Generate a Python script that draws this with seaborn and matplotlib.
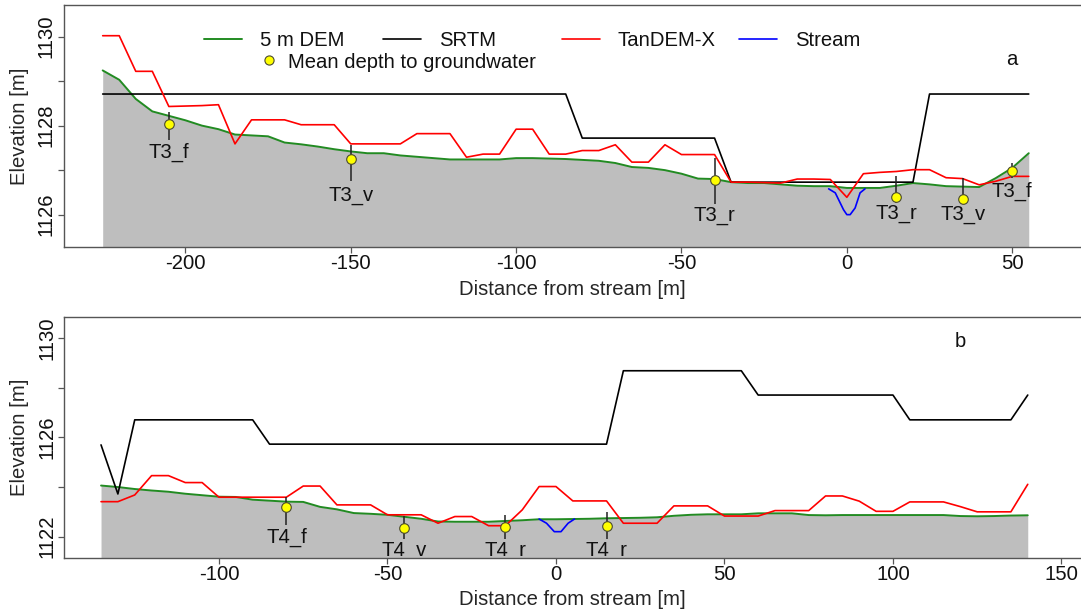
import numpy as np
import matplotlib
matplotlib.use("Agg")
import matplotlib.pyplot as plt
from matplotlib.lines import Line2D
from matplotlib.legend import Legend
import seaborn as sns

# ---------------- Transect T3 (panel a) ----------------
t3_dist = np.arange(-225, 60, 5)
t3_dem = [1129.24, 1129.03, 1128.60, 1128.32, 1128.22, 1128.12, 1128.00, 1127.92, 1127.80, 1127.78,
          1127.76, 1127.62, 1127.58, 1127.53, 1127.47, 1127.42, 1127.38, 1127.38, 1127.33, 1127.30,
          1127.27, 1127.24, 1127.24, 1127.24, 1127.24, 1127.27, 1127.27, 1127.26, 1127.25, 1127.23,
          1127.21, 1127.16, 1127.07, 1127.05, 1127.00, 1126.92, 1126.81, 1126.80, 1126.73, 1126.71,
          1126.71, 1126.68, 1126.65, 1126.64, 1126.64, 1126.60, 1126.60, 1126.60, 1126.65, 1126.71,
          1126.68, 1126.64, 1126.63, 1126.62, 1126.82, 1127.05, 1127.38]
t3_tandem = [1130.02, 1130.02, 1129.22, 1129.22, 1128.43, 1128.44, 1128.45, 1128.47, 1127.59, 1128.13,
             1128.13, 1128.13, 1128.02, 1128.02, 1128.02, 1127.59, 1127.59, 1127.59, 1127.59, 1127.82,
             1127.82, 1127.82, 1127.29, 1127.36, 1127.36, 1127.92, 1127.92, 1127.36, 1127.36, 1127.44,
             1127.44, 1127.57, 1127.18, 1127.18, 1127.57, 1127.35, 1127.35, 1127.35, 1126.73, 1126.73,
             1126.72, 1126.71, 1126.80, 1126.80, 1126.79, 1126.39, 1126.92, 1126.95, 1126.97, 1127.01,
             1127.01, 1126.83, 1126.81, 1126.67, 1126.75, 1126.86, 1126.86]
t3_srtm = [1128.71, 1128.71, 1128.71, 1128.71, 1128.71, 1128.71, 1128.71, 1128.71, 1128.71, 1128.71,
           1128.71, 1128.71, 1128.71, 1128.71, 1128.71, 1128.71, 1128.71, 1128.71, 1128.71, 1128.71,
           1128.71, 1128.71, 1128.71, 1128.71, 1128.71, 1128.71, 1128.71, 1128.71, 1128.71, 1127.72,
           1127.72, 1127.72, 1127.72, 1127.72, 1127.72, 1127.72, 1127.72, 1127.72, 1126.73, 1126.73,
           1126.73, 1126.73, 1126.73, 1126.73, 1126.73, 1126.73, 1126.73, 1126.73, 1126.73, 1126.73,
           1128.71, 1128.71, 1128.71, 1128.71, 1128.71, 1128.71, 1128.71]
t3_stream_dist = [-5.5, -3.5, -1.0, 0.0, 1.0, 2.5, 4.0, 5.5]
t3_stream_elev = [1126.58, 1126.49, 1126.11, 1126.00, 1126.00, 1126.15, 1126.49, 1126.58]
t3_well_names = ["T3_f", "T3_v", "T3_r", "T3_r", "T3_v", "T3_f"]
t3_well_dist = [-205, -150, -40, 15, 35, 50]
t3_gw_mean = [1128.04, 1127.25, 1126.78, 1126.39, 1126.35, 1126.97]
t3_gw_high = [1128.30, 1127.57, 1127.27, 1126.86, 1126.83, 1127.17]
t3_gw_low = [1127.68, 1126.75, 1126.23, 1126.26, 1126.23, 1126.83]
t3_label_top = [1127.62, 1126.65, 1126.19, 1126.23, 1126.21, 1126.75]

# ---------------- Transect T4 (panel b) ----------------
t4_dist = np.arange(-135, 145, 5)
t4_dem = [1124.06, 1124.00, 1123.92, 1123.86, 1123.81, 1123.73, 1123.67, 1123.61, 1123.60, 1123.49,
          1123.45, 1123.41, 1123.40, 1123.20, 1123.10, 1122.95, 1122.92, 1122.88, 1122.80, 1122.72,
          1122.61, 1122.60, 1122.60, 1122.60, 1122.63, 1122.66, 1122.70, 1122.70, 1122.71, 1122.72,
          1122.74, 1122.75, 1122.76, 1122.78, 1122.84, 1122.88, 1122.90, 1122.90, 1122.90, 1122.94,
          1122.94, 1122.94, 1122.87, 1122.86, 1122.87, 1122.87, 1122.87, 1122.87, 1122.87, 1122.87,
          1122.87, 1122.83, 1122.82, 1122.83, 1122.85, 1122.86]
t4_tandem = [1123.41, 1123.41, 1123.68, 1124.46, 1124.46, 1124.18, 1124.18, 1123.59, 1123.59, 1123.59,
             1123.59, 1123.59, 1124.04, 1124.04, 1123.28, 1123.28, 1123.28, 1122.88, 1122.88, 1122.88,
             1122.54, 1122.81, 1122.81, 1122.44, 1122.44, 1123.08, 1124.02, 1124.02, 1123.44, 1123.44,
             1123.44, 1122.54, 1122.54, 1122.54, 1123.24, 1123.24, 1123.24, 1122.83, 1122.83, 1122.83,
             1123.05, 1123.05, 1123.05, 1123.64, 1123.64, 1123.43, 1123.02, 1123.02, 1123.40, 1123.40,
             1123.40, 1123.21, 1123.00, 1123.00, 1123.00, 1124.11]
t4_srtm = [1125.70, 1123.72, 1126.71, 1126.71, 1126.71, 1126.71, 1126.71, 1126.71, 1126.71, 1126.71,
           1125.73, 1125.73, 1125.73, 1125.73, 1125.73, 1125.73, 1125.73, 1125.73, 1125.73, 1125.73,
           1125.73, 1125.73, 1125.73, 1125.73, 1125.73, 1125.73, 1125.73, 1125.73, 1125.73, 1125.73,
           1125.73, 1128.69, 1128.69, 1128.69, 1128.69, 1128.69, 1128.69, 1128.69, 1128.69, 1127.71,
           1127.71, 1127.71, 1127.71, 1127.71, 1127.71, 1127.71, 1127.71, 1127.71, 1126.71, 1126.71,
           1126.71, 1126.71, 1126.71, 1126.71, 1126.71, 1127.71]
t4_stream_dist = [-5.0, -2.8, -0.5, 1.5, 3.6, 5.5]
t4_stream_elev = [1122.71, 1122.54, 1122.20, 1122.20, 1122.54, 1122.71]
t4_well_names = ["T4_f", "T4_v", "T4_r", "T4_r"]
t4_well_dist = [-80, -45, -15, 15]
t4_gw_mean = [1123.21, 1122.34, 1122.40, 1122.44]
t4_gw_high = [1123.61, 1122.83, 1122.88, 1123.01]
t4_gw_low = [1122.45, 1121.90, 1121.90, 1121.90]
t4_label_top = [1122.34, 1121.84, 1121.84, 1121.84]

C_DEM = "#228B22"
C_SRTM = "black"
C_TDX = "#FF0000"
C_STREAM = "#0000FF"
C_GROUND = "#BEBEBE"
FS = 14.6
LW = 1.2

sns.set_theme(style="white")
plt.rcParams["font.family"] = ["Liberation Sans", "DejaVu Sans"]
plt.rcParams["text.color"] = "#111111"

fig = plt.figure(figsize=(10.81, 6.13), dpi=100)
W, H = 1081, 613


def px_axes(left, top, right, bottom):
    return fig.add_axes([left / W, 1 - bottom / H, (right - left) / W, (bottom - top) / H])


ax_a = px_axes(64, 5, 1081, 246.7)
ax_b = px_axes(64.3, 316.7, 1081, 557.7)


def draw_panel(ax, dist, dem, srtm, tandem, s_dist, s_elev, names, wdist, gmean, ghigh, glow,
               ltop, xlim, ylim, xticks, yticks, ylabels, letter, letter_xy):
    ax.set_xlim(*xlim)
    ax.set_ylim(*ylim)
    ax.fill_between(dist, dem, ylim[0] - 5, color=C_GROUND, lw=0, zorder=1)
    sns.lineplot(x=dist, y=dem, ax=ax, color=C_DEM, lw=LW + 0.2, legend=False, zorder=3)
    sns.lineplot(x=dist, y=srtm, ax=ax, color=C_SRTM, lw=LW, legend=False, zorder=3)
    sns.lineplot(x=dist, y=tandem, ax=ax, color=C_TDX, lw=LW, legend=False, zorder=4)
    sns.lineplot(x=s_dist, y=s_elev, ax=ax, color=C_STREAM, lw=LW, legend=False, zorder=4)
    ax.vlines(wdist, glow, ghigh, color="#222222", lw=1.1, zorder=5)
    sns.scatterplot(x=wdist, y=gmean, ax=ax, color="yellow", edgecolor="#4a4a30",
                    linewidth=0.8, s=48, zorder=6, legend=False)
    for name, xv, yv in zip(names, wdist, ltop):
        ax.annotate(name, (xv, yv), ha="center", va="top", fontsize=FS,
                    clip_on=True, zorder=7)
    ax.text(letter_xy[0], letter_xy[1], letter, ha="center", va="baseline", fontsize=FS)

    ax.set_xticks(xticks)
    ax.set_xticklabels([str(t) for t in xticks], fontsize=FS)
    ax.set_yticks(yticks)
    ax.set_yticklabels(ylabels, fontsize=FS, rotation=90, va="center")
    ax.tick_params(axis="both", which="major", direction="out", length=6 * 0.72,
                   width=0.9, color="#555555", labelcolor="#111111",
                   bottom=True, left=True)
    ax.tick_params(axis="x", pad=0.8)
    ax.tick_params(axis="y", pad=1.5)
    for side in ["left", "bottom", "top"]:
        ax.spines[side].set_color("#555555")
        ax.spines[side].set_linewidth(1.0)
    ax.spines["right"].set_visible(False)
    ax.set_xlabel("Distance from stream [m]", fontsize=FS)
    ax.set_ylabel("Elevation [m]", fontsize=FS)
    ax.grid(False)


draw_panel(ax_a, t3_dist, t3_dem, t3_srtm, t3_tandem, t3_stream_dist, t3_stream_elev,
           t3_well_names, t3_well_dist, t3_gw_mean, t3_gw_high, t3_gw_low, t3_label_top,
           (-236.7, 70.8), (1125.28, 1130.71), [-200, -150, -100, -50, 0, 50],
           [1126, 1127, 1128, 1129, 1130], ["1126", "", "1128", "", "1130"],
           "a", (49.8, 1129.37))
draw_panel(ax_b, t4_dist, t4_dem, t4_srtm, t4_tandem, t4_stream_dist, t4_stream_elev,
           t4_well_names, t4_well_dist, t4_gw_mean, t4_gw_high, t4_gw_low, t4_label_top,
           (-145.9, 155.8), (1121.15, 1130.87), [-100, -50, 0, 50, 100, 150],
           [1122, 1124, 1126, 1128, 1130], ["1122", "", "1126", "", "1130"],
           "b", (119.9, 1129.66))

ax_a.xaxis.set_label_coords(0.5, -0.136)
ax_b.xaxis.set_label_coords(0.5, -0.132)
ax_a.yaxis.set_label_coords(-0.0346, 0.5)
ax_b.yaxis.set_label_coords(-0.0346, 0.5)

# Legend entries in panel a, one per slot
em = FS * 100 / 72


def add_entry(ax, handle, label, x, y, hlen_px, gap_px):
    leg = Legend(ax, [handle], [label], loc="center left", bbox_to_anchor=(x, y),
                 bbox_transform=ax.transAxes, frameon=False, borderpad=0,
                 borderaxespad=0, handlelength=hlen_px / em,
                 handletextpad=gap_px / em, fontsize=FS)
    ax.add_artist(leg)


row1 = (246.7 - 40.5) / 241.7
row2 = (246.7 - 62.0) / 241.7
entries = [
    (Line2D([], [], color=C_DEM, lw=LW + 0.2), "5 m DEM", 204),
    (Line2D([], [], color=C_SRTM, lw=LW), "SRTM", 383),
    (Line2D([], [], color=C_TDX, lw=LW), "TanDEM-X", 561.7),
    (Line2D([], [], color=C_STREAM, lw=LW), "Stream", 739),
]
for h, lab, xpx in entries:
    add_entry(ax_a, h, lab, (xpx - 64) / 1017, row1, 38.3, 17.5)
add_entry(ax_a, Line2D([], [], ls="none", marker="o", markersize=6.6,
                       markerfacecolor="yellow", markeredgecolor="#4a4a30",
                       markeredgewidth=0.8),
          "Mean depth to groundwater", (262 - 64) / 1017, row2, 14, 12.5)

fig.savefig("out.png", dpi=100)
